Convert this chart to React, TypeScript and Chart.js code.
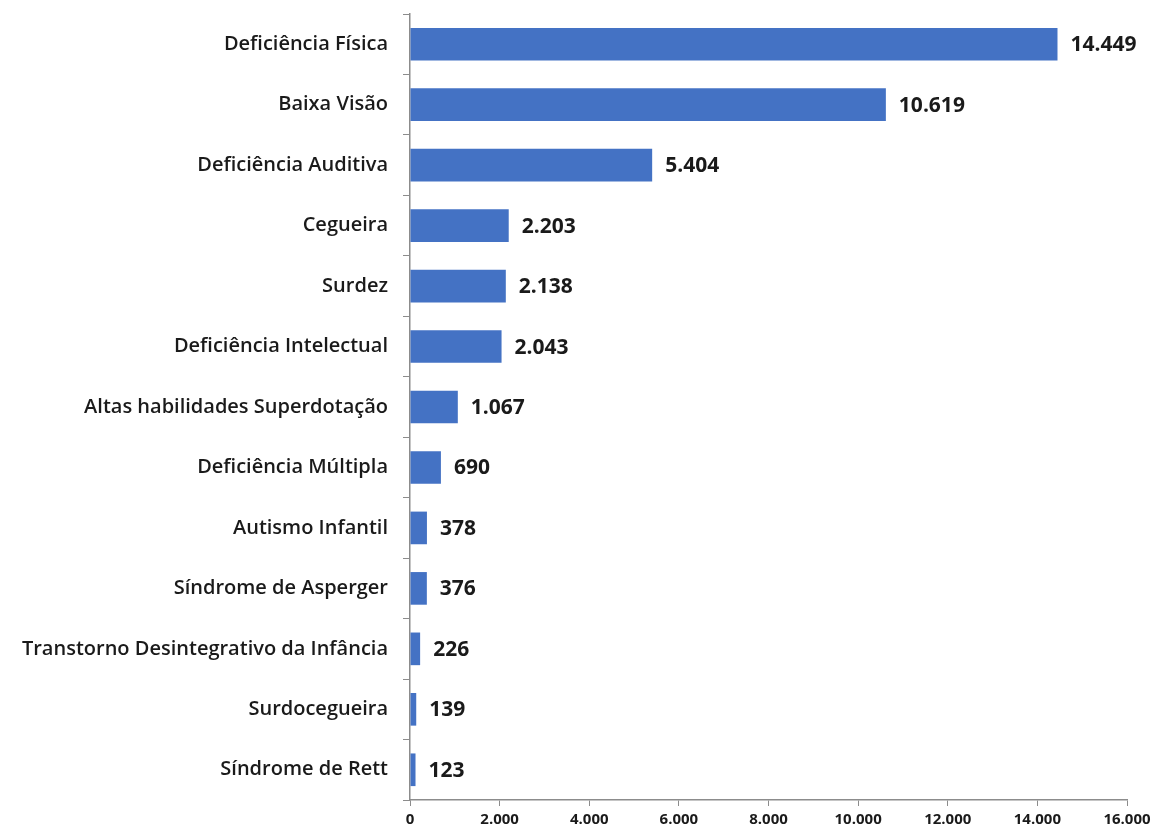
import React, { useEffect, useRef } from "react";
import { Chart, registerables } from "chart.js";

Chart.register(...registerables);

const categories = [
  "Deficiência Física",
  "Baixa Visão",
  "Deficiência Auditiva",
  "Cegueira",
  "Surdez",
  "Deficiência Intelectual",
  "Altas habilidades Superdotação",
  "Deficiência Múltipla",
  "Autismo Infantil",
  "Síndrome de Asperger",
  "Transtorno Desintegrativo da Infância",
  "Surdocegueira",
  "Síndrome de Rett",
];

const values = [14449, 10619, 5404, 2203, 2138, 2043, 1067, 690, 378, 376, 226, 139, 123];

const xTicks = [0, 2000, 4000, 6000, 8000, 10000, 12000, 14000, 16000];

function fmt(n: number): string {
  const s = Math.round(n).toString();
  return s.replace(/\B(?=(\d{3})+(?!\d))/g, ".");
}

const valueLabels = {
  id: "valueLabels",
  afterDatasetsDraw(chart: any) {
    const ctx = chart.ctx;
    const meta = chart.getDatasetMeta(0);
    ctx.save();
    ctx.font = "bold 21px 'Open Sans', sans-serif";
    ctx.fillStyle = "#1a1a1a";
    ctx.textAlign = "left";
    ctx.textBaseline = "middle";
    meta.data.forEach((bar: any, i: number) => {
      ctx.fillText(fmt(values[i]), bar.x + 13, bar.y + 1);
    });
    ctx.restore();
  },
};

export default function App() {
  const ref = useRef<HTMLCanvasElement | null>(null);
  useEffect(() => {
    document.body.style.margin = "0";
    if (!ref.current) return;
    const chart = new Chart(ref.current, {
      type: "bar",
      data: {
        labels: categories,
        datasets: [
          {
            data: values,
            backgroundColor: "#4472C4",
            borderWidth: 0,
            categoryPercentage: 1,
            barPercentage: 0.54,
          },
        ],
      },
      options: {
        indexAxis: "y",
        responsive: false,
        animation: false,
        devicePixelRatio: 1,
        layout: { padding: { top: 14, right: 26, bottom: 0, left: 0 } },
        plugins: {
          legend: { display: false },
          tooltip: { enabled: false },
        },
        scales: {
          x: {
            min: 0,
            max: 16000,
            afterBuildTicks(scale: any) {
              scale.ticks = xTicks.map((v) => ({ value: v }));
            },
            afterFit(scale: any) {
              scale.height = 31;
              scale.paddingLeft = 0;
              scale.paddingRight = 0;
            },
            grid: {
              drawOnChartArea: false,
              drawTicks: true,
              tickLength: 6,
              color: "#8c8c8c",
            },
            border: { color: "#8c8c8c", width: 1.5 },
            ticks: {
              padding: 5,
              color: "#1a1a1a",
              font: { family: "'Open Sans', sans-serif", size: 15, weight: "bold" },
              callback: (v: any) => fmt(Number(v)),
              maxRotation: 0,
              autoSkip: false,
            },
          },
          y: {
            afterFit(scale: any) {
              scale.width = 410;
              scale.paddingTop = 0;
              scale.paddingBottom = 0;
            },
            grid: {
              offset: true,
              drawOnChartArea: false,
              drawTicks: true,
              tickLength: 7,
              color: "#8c8c8c",
            },
            border: { color: "#8c8c8c", width: 1.5 },
            ticks: {
              padding: 15,
              color: "#1a1a1a",
              font: { family: "'Open Sans', sans-serif", size: 20, weight: 600 },
              autoSkip: false,
            },
          },
        },
      },
      plugins: [valueLabels],
    });
    return () => chart.destroy();
  }, []);
  return (
    <div style={{ position: "absolute", left: 0, top: 0, width: 1153, height: 831, background: "#fff" }}>
      <canvas ref={ref} width={1153} height={831} style={{ width: 1153, height: 831, display: "block" }} />
    </div>
  );
}
